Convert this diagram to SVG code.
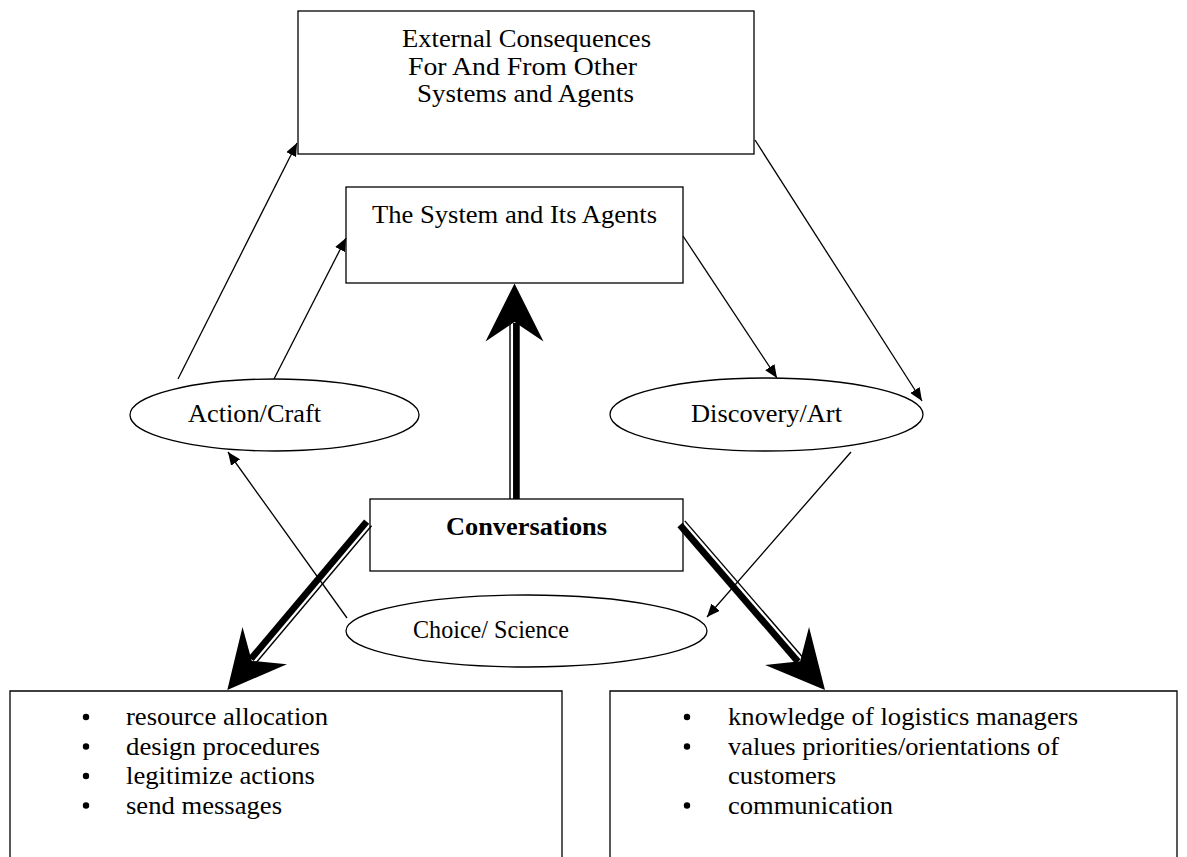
<svg xmlns="http://www.w3.org/2000/svg" width="1187" height="857" viewBox="0 0 1187 857">
<defs>
<style>
.box{fill:#fff;stroke:#000;stroke-width:1.3}
.t{font-family:'Liberation Serif','Times New Roman',Times,serif;font-size:26px;fill:#000}
.b{font-weight:bold}
.thin{stroke:#000;stroke-width:1.3;fill:none;marker-end:url(#ah)}
.thk{stroke:#000;stroke-width:6.7;fill:none}
.thn{stroke:#000;stroke-width:1.4;fill:none}
.head{fill:#000;stroke:none}
</style>
<marker id="ah" markerUnits="userSpaceOnUse" viewBox="0 0 13 11" markerWidth="13" markerHeight="11" refX="13" refY="5.5" orient="auto">
<path d="M0,0 L13,5.5 L0,11 z" fill="#000"/>
</marker>
</defs>
<rect width="1187" height="857" fill="#fff"/>

<g id="external">
<rect class="box" x="298" y="11" width="456" height="143"/>
<text class="t" x="402" y="47" textLength="249" lengthAdjust="spacingAndGlyphs">External Consequences</text>
<text class="t" x="408" y="75" textLength="229" lengthAdjust="spacingAndGlyphs">For And From Other</text>
<text class="t" x="417" y="102" textLength="217" lengthAdjust="spacingAndGlyphs">Systems and Agents</text>
</g>

<g id="system">
<rect class="box" x="346" y="187" width="337" height="96"/>
<text class="t" x="372" y="223" textLength="285" lengthAdjust="spacingAndGlyphs">The System and Its Agents</text>
</g>

<g id="action">
<ellipse class="box" cx="274.5" cy="415" rx="144.5" ry="36"/>
<text class="t" x="188" y="422" textLength="133" lengthAdjust="spacingAndGlyphs">Action/Craft</text>
</g>

<g id="discovery">
<ellipse class="box" cx="766.5" cy="414.5" rx="156.5" ry="36.5"/>
<text class="t" x="691" y="422" textLength="151" lengthAdjust="spacingAndGlyphs">Discovery/Art</text>
</g>

<g id="conversations">
<rect class="box" x="370" y="499" width="313" height="72"/>
<text class="t b" x="446" y="535" textLength="161" lengthAdjust="spacingAndGlyphs">Conversations</text>
</g>

<g id="choice">
<ellipse class="box" cx="526.5" cy="631" rx="180.5" ry="36"/>
<text class="t" x="413" y="638" textLength="156" lengthAdjust="spacingAndGlyphs">Choice/ Science</text>
</g>

<g id="left-list">
<path class="box" d="M10,857 V691 H562 V857"/>
<circle cx="86" cy="717" r="3.2"/>
<circle cx="86" cy="746.5" r="3.2"/>
<circle cx="86" cy="776" r="3.2"/>
<circle cx="86" cy="805.5" r="3.2"/>
<text class="t" x="126" y="725" textLength="202" lengthAdjust="spacingAndGlyphs">resource allocation</text>
<text class="t" x="126" y="754.5" textLength="194" lengthAdjust="spacingAndGlyphs">design procedures</text>
<text class="t" x="126" y="784" textLength="189" lengthAdjust="spacingAndGlyphs">legitimize actions</text>
<text class="t" x="126" y="813.5" textLength="156" lengthAdjust="spacingAndGlyphs">send messages</text>
</g>

<g id="right-list">
<path class="box" d="M610,857 V691 H1177 V857"/>
<circle cx="687" cy="717" r="3.2"/>
<circle cx="687" cy="746.5" r="3.2"/>
<circle cx="687" cy="805.5" r="3.2"/>
<text class="t" x="728" y="725" textLength="350" lengthAdjust="spacingAndGlyphs">knowledge of logistics managers</text>
<text class="t" x="728" y="754.5" textLength="331" lengthAdjust="spacingAndGlyphs">values priorities/orientations of</text>
<text class="t" x="728" y="784" textLength="108" lengthAdjust="spacingAndGlyphs">customers</text>
<text class="t" x="728" y="813.5" textLength="165" lengthAdjust="spacingAndGlyphs">communication</text>
</g>

<g id="connectors">
<line class="thin" x1="178" y1="379" x2="297" y2="143"/>
<line class="thin" x1="274" y1="379" x2="346" y2="238"/>
<line class="thin" x1="683" y1="236" x2="777" y2="378"/>
<line class="thin" x1="755" y1="140" x2="922" y2="401"/>
<line class="thin" x1="851" y1="452" x2="707" y2="617"/>
<line class="thin" x1="347" y1="618" x2="228" y2="452"/>

<line class="thk" x1="516.4" y1="499" x2="516.4" y2="323"/>
<line class="thn" x1="510" y1="499" x2="510" y2="323"/>
<polygon class="head" points="514.5,283.5 543.5,341.5 514.5,322 485.5,341.5"/>

<line class="thk" x1="366.65" y1="521.68" x2="250.98" y2="658.95"/>
<line class="thn" x1="371.54" y1="525.8" x2="255.87" y2="663.07"/>
<polygon class="head" points="227.3,690 242.5,626.9 251.8,660.9 286.9,664.3"/>

<line class="thk" x1="679.96" y1="525.04" x2="798.06" y2="661.72"/>
<line class="thn" x1="684.81" y1="520.86" x2="802.91" y2="657.54"/>
<polygon class="head" points="825,690 809.02,627.12 800.15,661.23 765.12,665.06"/>
</g>
</svg>
